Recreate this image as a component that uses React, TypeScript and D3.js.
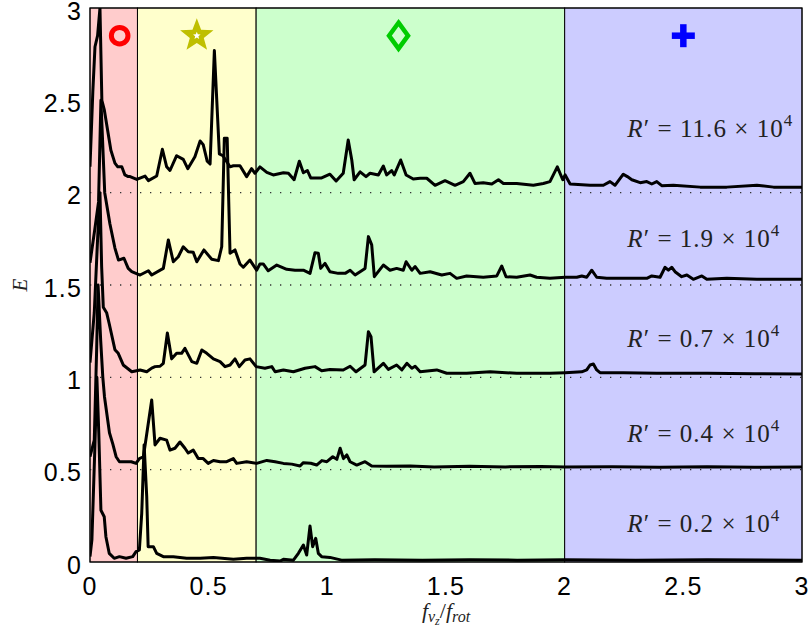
import React from "react";
import * as d3 from "d3";

// normalised spectra, each shifted up by its offset (E = offset + spectrum)
const spec116: [number, number][] = [
  [0, 2.14], [0.012, 2.55], [0.021, 2.79], [0.032, 2.85], [0.042, 3.0], [0.05, 2.5], [0.06, 2.45],
  [0.088, 2.23], [0.105, 2.16], [0.117, 2.14], [0.134, 2.14], [0.147, 2.096], [0.161, 2.087],
  [0.169, 2.087], [0.197, 2.072], [0.232, 2.09], [0.246, 2.065], [0.281, 2.09], [0.305, 2.235],
  [0.323, 2.14], [0.337, 2.12], [0.365, 2.2], [0.393, 2.18], [0.412, 2.13], [0.442, 2.195],
  [0.464, 2.28], [0.477, 2.26], [0.494, 2.17], [0.506, 2.155], [0.524, 2.77], [0.545, 2.21],
  [0.56, 2.2], [0.59, 2.14], [0.604, 2.146], [0.632, 2.146], [0.66, 2.087], [0.681, 2.13],
  [0.695, 2.105], [0.716, 2.14], [0.745, 2.11], [0.772, 2.096], [0.815, 2.108], [0.836, 2.105],
  [0.86, 2.07], [0.882, 2.17], [0.899, 2.108], [0.916, 2.12], [0.93, 2.08], [0.976, 2.08],
  [1.011, 2.1], [1.037, 2.063], [1.067, 2.105], [1.088, 2.285], [1.103, 2.177], [1.113, 2.07],
  [1.138, 2.113], [1.163, 2.087], [1.18, 2.105], [1.215, 2.096], [1.236, 2.144], [1.25, 2.096],
  [1.271, 2.12], [1.282, 2.096], [1.309, 2.177], [1.332, 2.096], [1.362, 2.074], [1.391, 2.078],
  [1.419, 2.078], [1.454, 2.04], [1.496, 2.065], [1.538, 2.04], [1.573, 2.06], [1.601, 2.105],
  [1.622, 2.05], [1.657, 2.054], [1.693, 2.047], [1.721, 2.07], [1.742, 2.05], [1.798, 2.05],
  [1.868, 2.04], [1.91, 2.05], [1.938, 2.06], [1.969, 2.14], [1.992, 2.07], [2.002, 2.096],
  [2.023, 2.047], [2.107, 2.04], [2.163, 2.04], [2.191, 2.06], [2.212, 2.04], [2.247, 2.1],
  [2.264, 2.087], [2.283, 2.07], [2.318, 2.054], [2.346, 2.06], [2.367, 2.047], [2.388, 2.06],
  [2.409, 2.038], [2.458, 2.04], [2.571, 2.03], [2.683, 2.03], [2.81, 2.04], [2.88, 2.03], [3.0, 2.03],
];

const spec19: [number, number][] = [
  [0, 1.62], [0.02, 1.8], [0.036, 1.95], [0.046, 2.5], [0.062, 2.0], [0.084, 1.83], [0.105, 1.7],
  [0.12, 1.635], [0.143, 1.645], [0.161, 1.59], [0.176, 1.572], [0.211, 1.554], [0.246, 1.577],
  [0.26, 1.554], [0.309, 1.59], [0.33, 1.744], [0.351, 1.626], [0.372, 1.653], [0.393, 1.707],
  [0.414, 1.68], [0.435, 1.677], [0.45, 1.626], [0.48, 1.69], [0.513, 1.639], [0.541, 1.632],
  [0.555, 1.707], [0.566, 2.295], [0.578, 2.295], [0.59, 1.672], [0.611, 1.69], [0.632, 1.614],
  [0.646, 1.596], [0.674, 1.635], [0.702, 1.58], [0.716, 1.614], [0.73, 1.614], [0.751, 1.577],
  [0.787, 1.608], [0.829, 1.585], [0.864, 1.58], [0.899, 1.58], [0.927, 1.563], [0.948, 1.675],
  [0.962, 1.672], [0.972, 1.59], [0.99, 1.617], [1.011, 1.572], [1.046, 1.563], [1.075, 1.563],
  [1.096, 1.58], [1.117, 1.554], [1.159, 1.59], [1.173, 1.762], [1.187, 1.717], [1.198, 1.545],
  [1.236, 1.608], [1.264, 1.58], [1.292, 1.59], [1.32, 1.58], [1.332, 1.626], [1.356, 1.58],
  [1.37, 1.6], [1.391, 1.563], [1.433, 1.572], [1.482, 1.554], [1.517, 1.563], [1.545, 1.536],
  [1.587, 1.549], [1.657, 1.542], [1.714, 1.549], [1.735, 1.603], [1.753, 1.545], [1.798, 1.542],
  [1.854, 1.554], [1.882, 1.542], [1.938, 1.536], [2.002, 1.542], [2.051, 1.542], [2.072, 1.549],
  [2.093, 1.542], [2.114, 1.58], [2.135, 1.542], [2.177, 1.536], [2.247, 1.536], [2.346, 1.536],
  [2.367, 1.549], [2.402, 1.542], [2.423, 1.596], [2.437, 1.58], [2.451, 1.596], [2.465, 1.572],
  [2.493, 1.545], [2.515, 1.554], [2.542, 1.531], [2.578, 1.549], [2.599, 1.531], [2.683, 1.536],
  [2.81, 1.531], [3.0, 1.531],
];

const spec07: [number, number][] = [
  [0, 1.08], [0.018, 1.35], [0.032, 1.75], [0.042, 2.0], [0.049, 1.6], [0.056, 1.38], [0.07, 1.35],
  [0.081, 1.29], [0.105, 1.15], [0.119, 1.13], [0.14, 1.067], [0.176, 1.03], [0.211, 1.04],
  [0.239, 1.03], [0.26, 1.05], [0.274, 1.058], [0.295, 1.06], [0.309, 1.076], [0.326, 1.24],
  [0.344, 1.1], [0.365, 1.13], [0.386, 1.13], [0.4, 1.157], [0.429, 1.085], [0.45, 1.076],
  [0.471, 1.148], [0.492, 1.13], [0.52, 1.1], [0.548, 1.085], [0.569, 1.058], [0.59, 1.067],
  [0.611, 1.1], [0.629, 1.058], [0.653, 1.094], [0.674, 1.1], [0.7, 1.058], [0.737, 1.049],
  [0.766, 1.058], [0.78, 1.03], [0.815, 1.04], [0.857, 1.03], [0.906, 1.049], [0.948, 1.058],
  [0.976, 1.036], [1.011, 1.043], [1.067, 1.04], [1.096, 1.06], [1.121, 1.03], [1.159, 1.067],
  [1.173, 1.247], [1.184, 1.22], [1.197, 1.03], [1.236, 1.076], [1.257, 1.043], [1.292, 1.067],
  [1.314, 1.04], [1.335, 1.076], [1.356, 1.049], [1.37, 1.06], [1.391, 1.03], [1.461, 1.04],
  [1.503, 1.022], [1.587, 1.022], [1.686, 1.03], [1.798, 1.022], [1.938, 1.022], [2.002, 1.025],
  [2.072, 1.03], [2.093, 1.04], [2.107, 1.067], [2.121, 1.072], [2.135, 1.04], [2.149, 1.025],
  [2.247, 1.025], [2.388, 1.022], [2.6, 1.022], [2.8, 1.02], [3.0, 1.018],
];

const spec04: [number, number][] = [
  [0, 0.57], [0.018, 0.66], [0.028, 1.15], [0.034, 1.5], [0.045, 1.2], [0.054, 1.0], [0.061, 0.895],
  [0.082, 0.7], [0.096, 0.64], [0.11, 0.57], [0.124, 0.543], [0.145, 0.543], [0.174, 0.543],
  [0.194, 0.534], [0.208, 0.56], [0.225, 0.57], [0.26, 0.877], [0.274, 0.634], [0.295, 0.67],
  [0.323, 0.66], [0.337, 0.606], [0.358, 0.616], [0.379, 0.65], [0.4, 0.616], [0.414, 0.59],
  [0.435, 0.606], [0.456, 0.56], [0.477, 0.56], [0.498, 0.534], [0.52, 0.55], [0.548, 0.543],
  [0.576, 0.543], [0.604, 0.56], [0.618, 0.534], [0.66, 0.543], [0.702, 0.534], [0.745, 0.55],
  [0.78, 0.543], [0.815, 0.534], [0.85, 0.53], [0.885, 0.52], [0.899, 0.538], [0.93, 0.535],
  [0.955, 0.525], [0.977, 0.549], [0.998, 0.543], [1.023, 0.57], [1.04, 0.556], [1.054, 0.616],
  [1.068, 0.56], [1.082, 0.58], [1.096, 0.543], [1.124, 0.525], [1.159, 0.543], [1.187, 0.52],
  [1.25, 0.518], [1.35, 0.52], [1.45, 0.515], [1.6, 0.518], [1.75, 0.515], [1.9, 0.517],
  [2.0, 0.514], [2.2, 0.516], [2.4, 0.513], [2.6, 0.516], [2.8, 0.513], [3.0, 0.515],
];

const spec02: [number, number][] = [
  [0, 0.03], [0.008, 0.12], [0.02, 0.6], [0.029, 1.0], [0.037, 0.7], [0.046, 0.28], [0.06, 0.245],
  [0.067, 0.137], [0.081, 0.047], [0.102, 0.02], [0.124, 0.029], [0.152, 0.02], [0.18, 0.029],
  [0.194, 0.056], [0.208, 0.065], [0.218, 0.265], [0.228, 0.634], [0.239, 0.354], [0.245, 0.083],
  [0.267, 0.083], [0.281, 0.047], [0.309, 0.029], [0.351, 0.029], [0.407, 0.02], [0.464, 0.02],
  [0.52, 0.025], [0.604, 0.015], [0.66, 0.02], [0.716, 0.02], [0.759, 0.01], [0.801, 0.005],
  [0.815, 0.015], [0.857, 0.01], [0.878, 0.047], [0.899, 0.092], [0.913, 0.038], [0.927, 0.195],
  [0.938, 0.083], [0.951, 0.128], [0.962, 0.047], [0.976, 0.029], [1.011, 0.025], [1.06, 0.01],
  [1.2, 0.012], [1.4, 0.01], [1.6, 0.012], [1.8, 0.01], [2.0, 0.012], [2.3, 0.01], [2.6, 0.012],
  [3.0, 0.01],
];

const curves = [spec116, spec19, spec07, spec04, spec02];
const rPrime = ["11.6", "1.9", "0.7", "0.4", "0.2"];
const offsets = [2, 1.5, 1, 0.5, 0];
const labelE = [2.3, 1.705, 1.165, 0.65, 0.165];
const labelF = 2.264;

const bandEdges = [0, 0.2, 0.7, 2, 3];
const markerKinds = ["circle", "star", "diamond", "plus"];
const markerF = [0.125, 0.45, 1.3, 2.5];
const markerE = 2.85;

const xTicks = [0, 0.5, 1, 1.5, 2, 2.5, 3];
const yTicks = [0, 0.5, 1, 1.5, 2, 2.5, 3];

const width = 811;
const height = 635;
const margin = { top: 8, right: 9, bottom: 73, left: 90 };
const bandColors = ["#ffcccc", "#ffffcc", "#ccffcc", "#ccccff"];
const sans = "'Liberation Sans', Arial, sans-serif";
const serif = "'Liberation Serif', 'DejaVu Serif', serif";

function starPath(r: number, inner: number) {
  const pts: string[] = [];
  for (let i = 0; i < 10; i++) {
    const a = -Math.PI / 2 + (i * Math.PI) / 5;
    const rr = i % 2 === 0 ? r : r * inner;
    pts.push(`${(rr * Math.cos(a)).toFixed(2)},${(rr * Math.sin(a)).toFixed(2)}`);
  }
  return "M" + pts.join("L") + "Z";
}

function Marker({ kind, cx, cy }: { kind: string; cx: number; cy: number }) {
  if (kind === "circle")
    return <circle cx={cx} cy={cy} r={8.3} fill="none" stroke="#ff0000" strokeWidth={5} />;
  if (kind === "star")
    return (
      <g transform={`translate(${cx},${cy})`}>
        <path d={starPath(17.5, 0.42)} fill="#bfbf00" />
        <path d={starPath(4, 0.42)} fill="#ffffff" />
      </g>
    );
  if (kind === "diamond")
    return (
      <path
        d={`M${cx},${cy - 13} L${cx + 9.5},${cy} L${cx},${cy + 13} L${cx - 9.5},${cy} Z`}
        fill="none" stroke="#00cc00" strokeWidth={4.5}
      />
    );
  return (
    <g stroke="#0000ff" strokeWidth={6.5}>
      <line x1={cx - 11.5} x2={cx + 11.5} y1={cy} y2={cy} />
      <line x1={cx} x2={cx} y1={cy - 11.5} y2={cy + 11.5} />
    </g>
  );
}

export default function App() {
  const x = d3.scaleLinear().domain([0, 3]).range([margin.left, width - margin.right]);
  const y = d3.scaleLinear().domain([0, 3]).range([height - margin.bottom, margin.top]);
  const line = d3.line<[number, number]>().x(d => x(d[0])).y(d => y(d[1]));
  const [x0, x1] = x.range();
  const [y0, y1] = y.range();

  return (
    <svg width={width} height={height} style={{ position: "absolute", left: 0, top: 0, display: "block" }}>
      <defs>
        <clipPath id="plot">
          <rect x={x0} y={y1} width={x1 - x0} height={y0 - y1} />
        </clipPath>
      </defs>
      {/* coloured frequency ranges */}
      {bandEdges.slice(0, -1).map((f, i) => (
        <rect key={i} x={x(f)} y={y1} width={x(bandEdges[i + 1]) - x(f)} height={y0 - y1}
          fill={bandColors[i]} stroke="#000" strokeWidth={1} />
      ))}
      {/* baselines of the shifted spectra */}
      {offsets.filter(o => o > 0).map(o => (
        <line key={o} x1={x0} x2={x1} y1={y(o)} y2={y(o)} stroke="#333" strokeWidth={1.3}
          strokeDasharray="1.3 8.7" />
      ))}
      <g clipPath="url(#plot)">
        {curves.map((c, i) => (
          <path key={i} d={line(c) || ""} fill="none" stroke="#000" strokeWidth={3}
            strokeLinejoin="round" />
        ))}
      </g>
      <rect x={x0} y={y1} width={x1 - x0} height={y0 - y1} fill="none" stroke="#000" strokeWidth={1} />
      {markerKinds.map((k, i) => (
        <Marker key={k} kind={k} cx={x(markerF[i])} cy={y(markerE)} />
      ))}
      {rPrime.map((r, i) => (
        <text key={r} x={x(labelF)} y={y(labelE[i])} fontFamily={serif} fontSize={25} fill="#222"
          textLength={152 + 13 * (r.length - 3)} lengthAdjust="spacing">
          <tspan fontStyle="italic">R</tspan>
          <tspan>{"\u2032 = " + r + " \u00d7 10"}</tspan>
          <tspan dy={-11} fontSize={17}>4</tspan>
        </text>
      ))}
      {xTicks.map(t => (
        <text key={t} x={x(t)} y={y0 + 33} textAnchor="middle" fontFamily={sans} fontSize={25}
          letterSpacing={1.2} fill="#000">
          {String(t)}
        </text>
      ))}
      {yTicks.map(t => (
        <text key={t} x={x0 - 8} y={y(t) + 11.5} textAnchor="end" fontFamily={sans} fontSize={25}
          letterSpacing={1.2} fill="#000">
          {String(t)}
        </text>
      ))}
      <text transform={`translate(${27},${(y0 + y1) / 2}) rotate(-90)`} textAnchor="middle"
        fontFamily={serif} fontStyle="italic" fontSize={21} fill="#222">E</text>
      <text x={(x0 + x1) / 2} y={y0 + 56} textAnchor="middle" fontFamily={serif} fontSize={22} fill="#222">
        <tspan fontStyle="italic">f</tspan>
        <tspan fontStyle="italic" fontSize={16} dy={4}>v</tspan>
        <tspan fontStyle="italic" fontSize={12} dy={3}>z</tspan>
        <tspan dy={-7}>/</tspan>
        <tspan fontStyle="italic">f</tspan>
        <tspan fontStyle="italic" fontSize={16} dy={4}>rot</tspan>
      </text>
    </svg>
  );
}
